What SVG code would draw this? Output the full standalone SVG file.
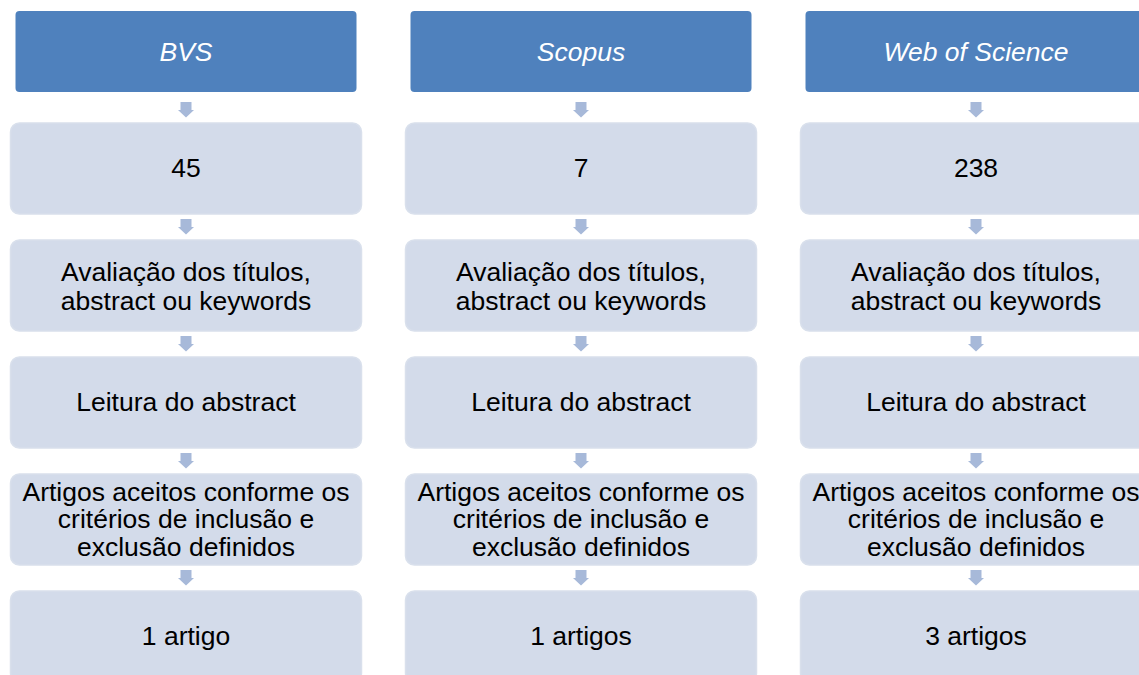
<svg xmlns="http://www.w3.org/2000/svg" width="1139" height="675" viewBox="0 0 1139 675">
<defs>
<style>
.hdr{fill:#4F81BD;}
.box{fill:#D3DBEA;stroke:#D9E0EC;stroke-width:1.5;}
.arr{fill:#A7B9D9;}
.t{font-family:"Liberation Sans",Arial,sans-serif;font-size:26.5px;fill:#000;text-anchor:middle;}
.th{font-family:"Liberation Sans",Arial,sans-serif;font-size:26.5px;fill:#fff;font-style:italic;text-anchor:middle;}
</style>
<path id="ar" d="M-5.5,0 H5.5 V8 H8 L0,15.5 L-8,8 H-5.5 Z"/>
</defs>
<rect width="1139" height="675" fill="#fff"/>
<g id="connectors" class="arr">
<use href="#ar" x="186" y="102"/><use href="#ar" x="186" y="219"/><use href="#ar" x="186" y="336"/><use href="#ar" x="186" y="453"/><use href="#ar" x="186" y="570"/>
<use href="#ar" x="581" y="102"/><use href="#ar" x="581" y="219"/><use href="#ar" x="581" y="336"/><use href="#ar" x="581" y="453"/><use href="#ar" x="581" y="570"/>
<use href="#ar" x="976" y="102"/><use href="#ar" x="976" y="219"/><use href="#ar" x="976" y="336"/><use href="#ar" x="976" y="453"/><use href="#ar" x="976" y="570"/>
</g>
<g id="col1">
<g id="bvs"><rect class="hdr" x="15.5" y="11" width="341" height="81" rx="4"/><text class="th" x="186" y="61">BVS</text></g>
<g id="bvs-n"><rect class="box" x="10.5" y="123" width="351" height="91" rx="9"/><text class="t" x="186" y="177">45</text></g>
<g id="bvs-aval"><rect class="box" x="10.5" y="240" width="351" height="91" rx="9"/><text class="t" x="186" y="281">Avaliação dos títulos,</text><text class="t" x="186" y="309.5">abstract ou keywords</text></g>
<g id="bvs-leit"><rect class="box" x="10.5" y="357" width="351" height="91" rx="9"/><text class="t" x="186" y="411">Leitura do abstract</text></g>
<g id="bvs-crit"><rect class="box" x="10.5" y="474" width="351" height="91" rx="9"/><text class="t" x="186" y="501">Artigos aceitos conforme os</text><text class="t" x="186" y="528">critérios de inclusão e</text><text class="t" x="186" y="555.5">exclusão definidos</text></g>
<g id="bvs-res"><rect class="box" x="10.5" y="591" width="351" height="91" rx="9"/><text class="t" x="186" y="645">1 artigo</text></g>
</g>
<g id="col2">
<g id="scopus"><rect class="hdr" x="410.5" y="11" width="341" height="81" rx="4"/><text class="th" x="581" y="61">Scopus</text></g>
<g id="scopus-n"><rect class="box" x="405.5" y="123" width="351" height="91" rx="9"/><text class="t" x="581" y="177">7</text></g>
<g id="scopus-aval"><rect class="box" x="405.5" y="240" width="351" height="91" rx="9"/><text class="t" x="581" y="281">Avaliação dos títulos,</text><text class="t" x="581" y="309.5">abstract ou keywords</text></g>
<g id="scopus-leit"><rect class="box" x="405.5" y="357" width="351" height="91" rx="9"/><text class="t" x="581" y="411">Leitura do abstract</text></g>
<g id="scopus-crit"><rect class="box" x="405.5" y="474" width="351" height="91" rx="9"/><text class="t" x="581" y="501">Artigos aceitos conforme os</text><text class="t" x="581" y="528">critérios de inclusão e</text><text class="t" x="581" y="555.5">exclusão definidos</text></g>
<g id="scopus-res"><rect class="box" x="405.5" y="591" width="351" height="91" rx="9"/><text class="t" x="581" y="645">1 artigos</text></g>
</g>
<g id="col3">
<g id="wos"><rect class="hdr" x="805.5" y="11" width="341" height="81" rx="4"/><text class="th" x="976" y="61">Web of Science</text></g>
<g id="wos-n"><rect class="box" x="800.5" y="123" width="351" height="91" rx="9"/><text class="t" x="976" y="177">238</text></g>
<g id="wos-aval"><rect class="box" x="800.5" y="240" width="351" height="91" rx="9"/><text class="t" x="976" y="281">Avaliação dos títulos,</text><text class="t" x="976" y="309.5">abstract ou keywords</text></g>
<g id="wos-leit"><rect class="box" x="800.5" y="357" width="351" height="91" rx="9"/><text class="t" x="976" y="411">Leitura do abstract</text></g>
<g id="wos-crit"><rect class="box" x="800.5" y="474" width="351" height="91" rx="9"/><text class="t" x="976" y="501">Artigos aceitos conforme os</text><text class="t" x="976" y="528">critérios de inclusão e</text><text class="t" x="976" y="555.5">exclusão definidos</text></g>
<g id="wos-res"><rect class="box" x="800.5" y="591" width="351" height="91" rx="9"/><text class="t" x="976" y="645">3 artigos</text></g>
</g>
</svg>
